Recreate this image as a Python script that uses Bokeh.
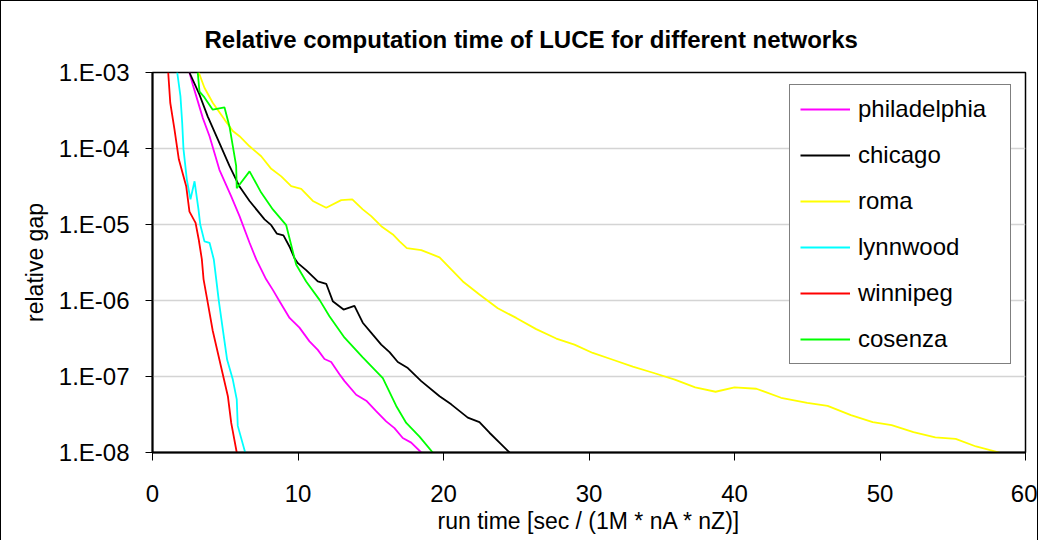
from bokeh.plotting import figure
from bokeh.models import FixedTicker, CustomJSTickFormatter, Legend, LegendItem
from bokeh.embed import file_html
from bokeh.resources import INLINE

# ---------------- data ----------------
phil_x = [2.54, 2.77, 3.11, 3.46, 3.92, 4.26, 4.60, 5.41, 5.98, 6.67, 7.13, 7.47, 7.81, 8.27, 8.73,
          9.42, 10.10, 10.79, 11.36, 11.82, 12.28, 12.85, 13.20, 14.00, 14.69, 15.37, 16.06, 16.63,
          17.20, 17.78, 18.47]
phil_y = [1.0e-3, 6.9e-4, 4.2e-4, 2.51e-4, 1.45e-4, 8.7e-5, 5.25e-5, 2.34e-5, 1.29e-5, 5.75e-6,
          3.47e-6, 2.57e-6, 1.9e-6, 1.38e-6, 9.8e-7, 5.9e-7, 4.4e-7, 2.9e-7, 2.24e-7, 1.7e-7,
          1.55e-7, 1.07e-7, 8.7e-8, 5.75e-8, 4.8e-8, 3.5e-8, 2.57e-8, 2.09e-8, 1.55e-8, 1.35e-8, 1.0e-8]

chic_x = [2.54, 3.23, 3.80, 4.49, 5.29, 5.98, 6.67, 7.35, 7.70, 8.16, 8.54, 9.00, 9.42, 9.76, 9.99,
          10.56, 11.36, 11.94, 12.39, 13.13, 13.88, 14.45, 15.14, 15.72, 16.29, 16.86, 17.55, 18.47,
          19.73, 20.53, 21.67, 22.47, 23.16, 23.85, 24.54]
chic_y = [1.0e-3, 5.1e-4, 2.63e-4, 1.32e-4, 5.9e-5, 3.16e-5, 2.04e-5, 1.41e-5, 1.17e-5, 9.8e-6,
          7.6e-6, 7.2e-6, 5.1e-6, 3.6e-6, 3.1e-6, 2.51e-6, 1.78e-6, 1.66e-6, 9.8e-7, 7.6e-7, 8.5e-7,
          5.1e-7, 3.55e-7, 2.63e-7, 2.09e-7, 1.55e-7, 1.29e-7, 8.7e-8, 5.5e-8, 4.3e-8, 2.88e-8,
          2.51e-8, 1.82e-8, 1.35e-8, 1.0e-8]

roma_x = [3.18, 3.57, 4.14, 4.95, 5.52, 5.98, 6.67, 7.47, 8.16, 8.85, 9.53, 10.22, 11.02, 11.94,
          12.97, 13.73, 14.45, 15.03, 15.72, 16.52, 16.98, 17.48, 18.47, 19.73, 21.33, 22.47, 23.73,
          25.00, 26.37, 27.75, 29.00, 30.26, 31.64, 33.01, 34.4, 35.9, 37.3, 38.7, 40.0, 41.5, 43.2,
          45.0, 46.4, 48.0, 49.5, 50.8, 52.3, 53.8, 55.2, 56.6, 58.2]
roma_y = [1.0e-3, 6.3e-4, 4.0e-4, 2.4e-4, 1.7e-4, 1.45e-4, 1.07e-4, 7.9e-5, 5.4e-5, 4.3e-5, 3.2e-5,
          2.95e-5, 2.04e-5, 1.66e-5, 2.09e-5, 2.14e-5, 1.58e-5, 1.29e-5, 9.5e-6, 7.4e-6, 6.0e-6,
          4.9e-6, 4.6e-6, 3.7e-6, 1.78e-6, 1.2e-6, 7.9e-7, 5.9e-7, 4.2e-7, 3.16e-7, 2.63e-7, 2.04e-7,
          1.66e-7, 1.35e-7, 1.12e-7, 9.1e-8, 7.2e-8, 6.3e-8, 7.2e-8, 6.9e-8, 5.25e-8, 4.5e-8, 4.1e-8,
          3.1e-8, 2.51e-8, 2.29e-8, 1.86e-8, 1.58e-8, 1.51e-8, 1.2e-8, 1.0e-8]

lynn_x = [1.70, 1.92, 2.04, 2.13, 2.36, 2.61, 2.89, 3.16, 3.28, 3.57, 3.92, 4.21, 4.38, 4.56, 4.83,
          5.13, 5.52, 5.79, 5.86, 6.37]
lynn_y = [1.0e-3, 4.9e-4, 2.19e-4, 9.8e-5, 3.9e-5, 2.14e-5, 3.7e-5, 1.58e-5, 1.0e-5, 6.0e-6,
          5.75e-6, 3.5e-6, 1.9e-6, 9.8e-7, 4.2e-7, 1.66e-7, 9.1e-8, 5.0e-8, 2.24e-8, 1.0e-8]

winn_x = [1.08, 1.22, 1.51, 1.81, 2.32, 2.54, 2.96, 3.18, 3.39, 3.51, 3.80, 4.14, 4.60, 5.18, 5.41, 5.79]
winn_y = [1.0e-3, 4.0e-4, 1.78e-4, 7.2e-5, 3.16e-5, 1.48e-5, 1.05e-5, 6.3e-6, 3.5e-6, 1.9e-6,
          9.3e-7, 4.0e-7, 1.66e-7, 5.5e-8, 2.45e-8, 1.0e-8]

cose_x = [3.11, 3.23, 3.57, 4.14, 4.95, 5.29, 5.75, 5.79, 6.67, 7.47, 8.27, 9.19, 9.76, 9.88, 10.56,
          11.48, 12.16, 13.20, 14.45, 15.83, 16.75, 17.44, 18.35, 19.26]
cose_y = [1.0e-3, 5.6e-4, 4.7e-4, 3.24e-4, 3.47e-4, 1.95e-4, 5.9e-5, 3.0e-5, 5.0e-5, 2.63e-5,
          1.58e-5, 9.8e-6, 3.6e-6, 2.95e-6, 1.78e-6, 1.02e-6, 6.2e-7, 3.24e-7, 1.78e-7, 9.5e-8,
          4.1e-8, 2.45e-8, 1.62e-8, 1.0e-8]

series_names = ["philadelphia", "chicago", "roma", "lynnwood", "winnipeg", "cosenza"]
series_colors = ["#FF00FF", "#000000", "#FFFF00", "#00FFFF", "#FF0000", "#00FF00"]
series_x = [phil_x, chic_x, roma_x, lynn_x, winn_x, cose_x]
series_y = [phil_y, chic_y, roma_y, lynn_y, winn_y, cose_y]

x_ticks = [0, 10, 20, 30, 40, 50, 60]
y_ticks = [1e-3, 1e-4, 1e-5, 1e-6, 1e-7, 1e-8]

title_text = "Relative computation time of LUCE for different networks"
x_label = "run time [sec / (1M * nA * nZ)]"
y_label = "relative gap"

FONT = "Liberation Sans"

# ---------------- figure ----------------
p = figure(width=1038, height=540, output_backend="svg", toolbar_location=None,
           y_axis_type="log", x_range=(0, 60), y_range=(1e-8, 1e-3),
           min_border_left=151, min_border_right=14, min_border_top=71, min_border_bottom=89,
           title=title_text)
p.styles = {"border-left": "1px solid #000", "border-top": "1px solid #000",
            "border-right": "1px solid #000"}

p.title.text_font = FONT
p.title.text_font_size = "24px"
p.title.text_font_style = "bold"
p.title.align = "left"
p.title.offset = 52
p.title.standoff = 40
p.title.text_color = "#000000"

p.outline_line_color = "#000000"
p.outline_line_width = 1.5

for ax in (p.xaxis[0], p.yaxis[0]):
    ax.axis_line_color = "#000000"
    ax.axis_line_width = 2
    ax.major_tick_line_color = "#000000"
    ax.major_tick_line_width = 1
    ax.minor_tick_line_color = None
    ax.major_tick_in = 0
    ax.major_label_text_font = FONT
    ax.major_label_text_font_size = "24px"
    ax.major_label_text_color = "#000000"
    ax.axis_label_text_font = FONT
    ax.axis_label_text_font_size = "23px"
    ax.axis_label_text_font_style = "normal"
    ax.axis_label_text_color = "#000000"

p.xaxis.ticker = FixedTicker(ticks=x_ticks)
p.xaxis.major_tick_out = 8
p.xaxis.major_label_standoff = 24
p.xaxis.axis_label = x_label
p.xaxis.axis_label_standoff = 3

p.yaxis.ticker = FixedTicker(ticks=y_ticks)
p.yaxis.major_tick_out = 7
p.yaxis.major_label_standoff = 16
p.yaxis.axis_label = y_label
p.yaxis.axis_label_standoff = 8
p.yaxis.formatter = CustomJSTickFormatter(code="""
    const e = Math.round(Math.log10(tick));
    const s = String(Math.abs(e)).padStart(2, "0");
    return "1.E" + (e < 0 ? "-" : "+") + s;
""")

p.xgrid.grid_line_color = None
p.ygrid.grid_line_color = "#d4d4d4"
p.ygrid.grid_line_width = 1.5

items = []
for name, color, xs, ys in zip(series_names, series_colors, series_x, series_y):
    r = p.line(xs, ys, line_color=color, line_width=1.8)
    items.append(LegendItem(label=name, renderers=[r]))

legend = Legend(items=items, location=(637, 88))
legend.label_text_font = FONT
legend.label_text_font_size = "24px"
legend.label_text_color = "#000000"
legend.glyph_width = 50
legend.glyph_height = 24
legend.label_height = 24
legend.label_width = 142
legend.label_standoff = 8
legend.spacing = 18
legend.padding = 10
legend.margin = 0
legend.border_line_color = "#000000"
legend.border_line_width = 1
legend.background_fill_color = "#ffffff"
legend.background_fill_alpha = 1
p.add_layout(legend, "center")

open("out.html", "w").write(file_html(p, INLINE))
